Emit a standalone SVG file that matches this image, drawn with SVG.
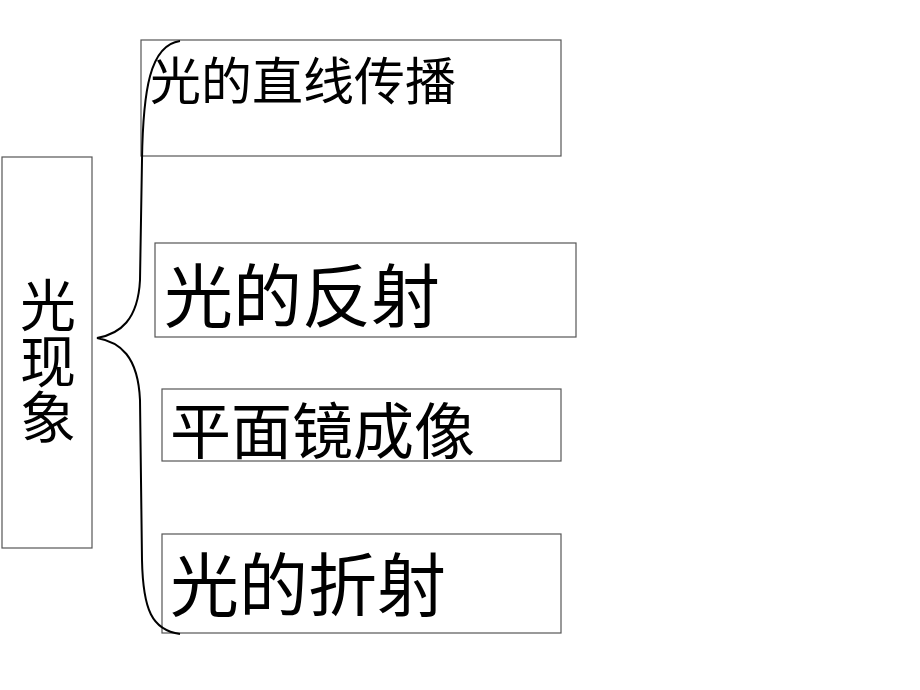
<svg xmlns="http://www.w3.org/2000/svg" width="920" height="690" viewBox="0 0 920 690">
<style>
.b{fill:#fff;stroke:#555;stroke-width:1.2}
.t{font-family:"Liberation Serif","Noto Sans CJK SC",serif;fill:#000}
</style>
<rect width="920" height="690" fill="#fff"/>
<g id="root"><rect class="b" x="2" y="157" width="90" height="391"/>
<text class="t" font-size="56" x="48" text-anchor="middle"><tspan x="48" y="326">光</tspan><tspan x="48" y="382">现</tspan><tspan x="48" y="438">象</tspan></text></g>
<g id="n1"><rect class="b" x="141" y="40" width="420" height="116"/><text class="t" font-size="51" x="150" y="100">光的直线传播</text></g>
<g id="n2"><rect class="b" x="155" y="243" width="421" height="94"/><text class="t" font-size="69" x="164" y="322">光的反射</text></g>
<g id="n3"><rect class="b" x="162" y="389" width="399" height="72"/><text class="t" font-size="61" x="170" y="454">平面镜成像</text></g>
<g id="n4"><rect class="b" x="162" y="534" width="399" height="99"/><text class="t" font-size="69" x="170" y="611">光的折射</text></g>
<g id="connectors"><path d="M180,41 C150,45 143,90 142,160 L140,280 C138,320 120,334 97,338 C120,342 138,356 140,400 L142,560 C143,610 152,630 180,634" fill="none" stroke="#000" stroke-width="2"/></g>
</svg>
